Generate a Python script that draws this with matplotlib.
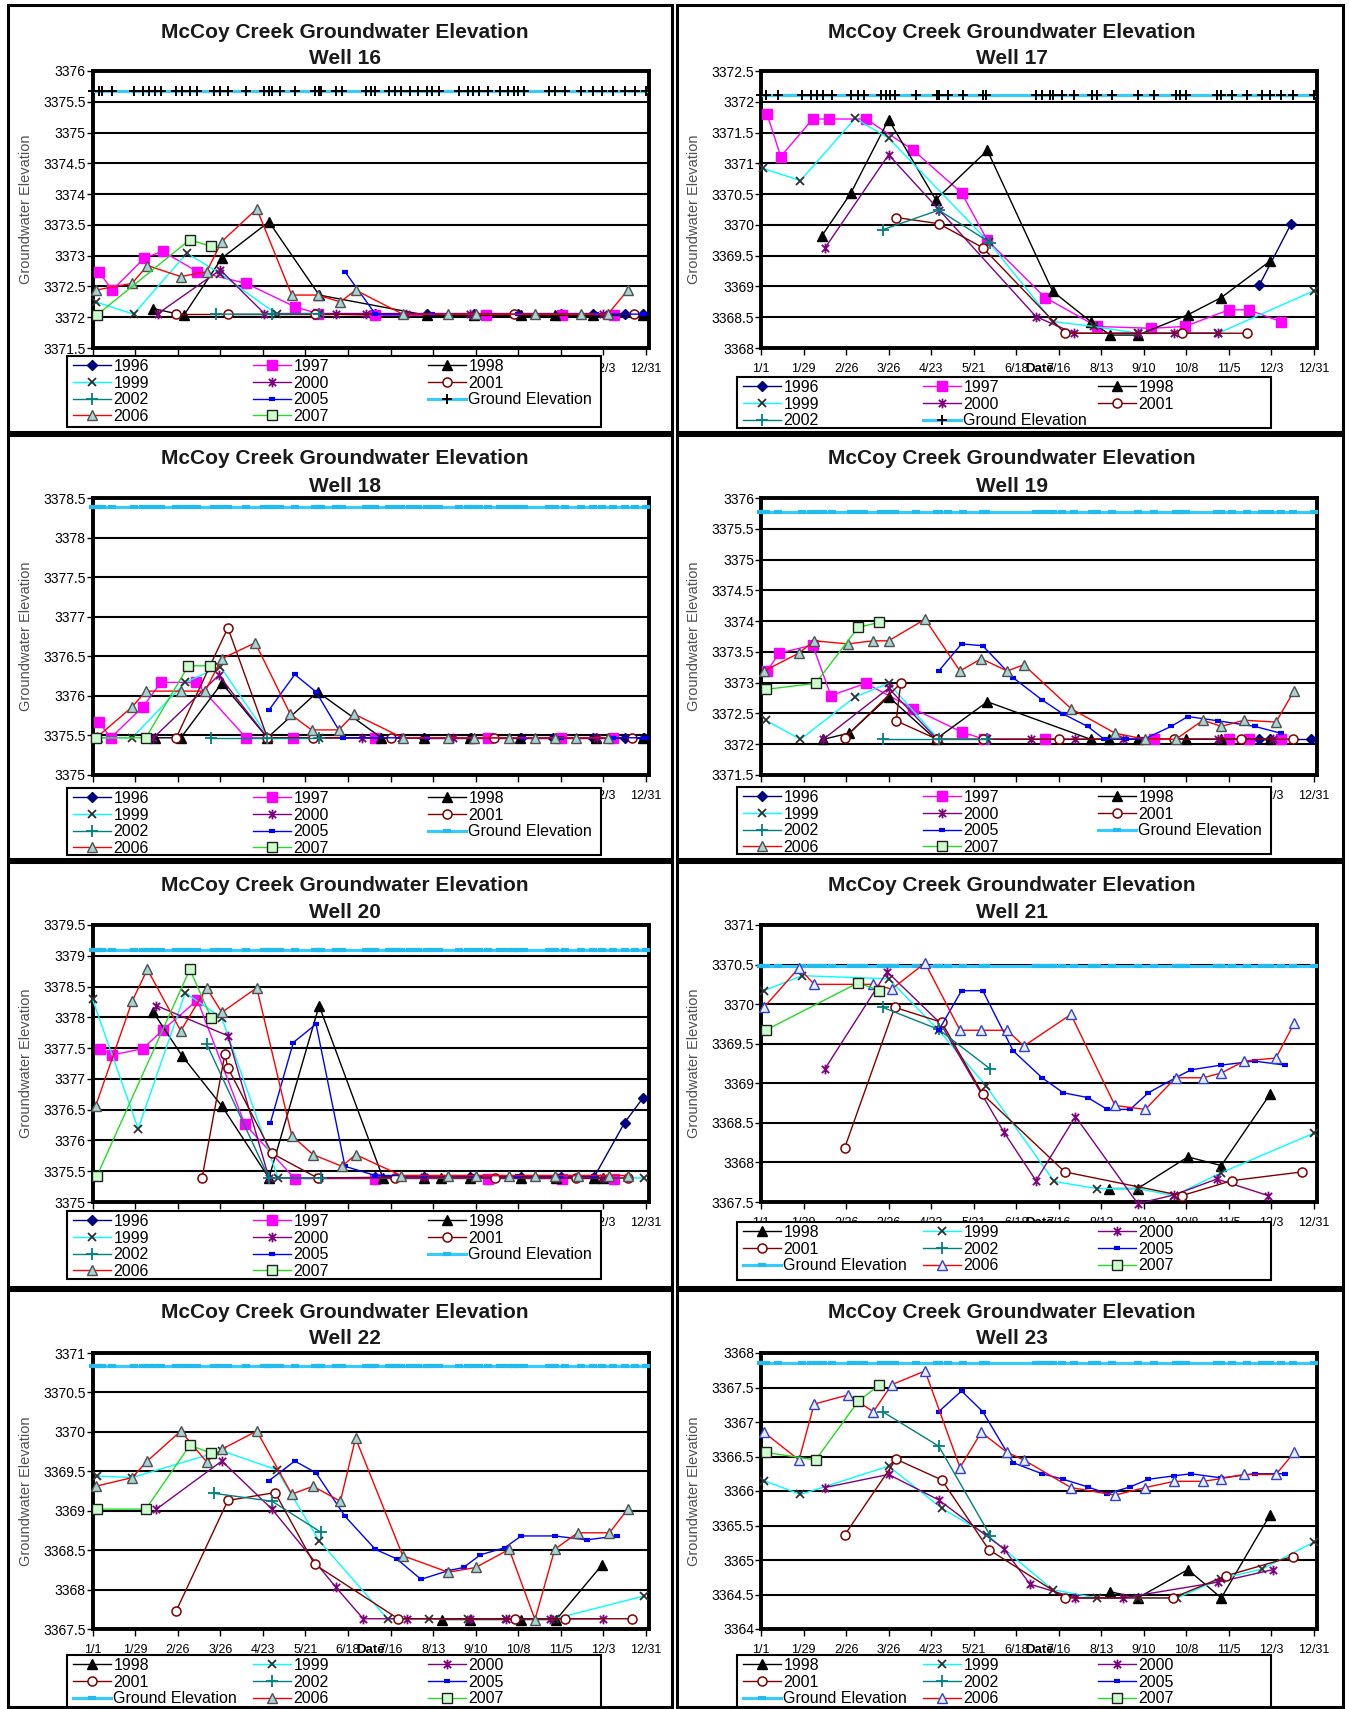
import matplotlib.pyplot as plt
from matplotlib.path import Path
from matplotlib.patches import Rectangle
from matplotlib.legend import Legend
from matplotlib.ticker import MultipleLocator, FuncFormatter

plt.rcParams['font.family'] = ['Liberation Sans', 'DejaVu Sans']

# x axis: day of year, ticks every 28 days
TICK_DAYS = [0, 28, 56, 84, 112, 140, 168, 196, 224, 252, 280, 308, 336, 364]
TICK_LABELS = ['1/1', '1/29', '2/26', '3/26', '4/23', '5/21', '6/18', '7/16',
               '8/13', '9/10', '10/8', '11/5', '12/3', '12/31']

# survey dates used for the ground elevation series
GROUND_DAYS_A = [0, 4, 6, 13, 27, 33, 37, 41, 45, 55, 59, 64, 69, 80, 84, 89, 101, 113,
                 116, 118, 123, 133, 146, 149, 150, 160, 164, 180, 183, 186, 195, 199,
                 203, 209, 214, 220, 223, 228, 241, 247, 250, 254, 260, 268, 273, 277,
                 280, 284, 300, 304, 311, 321, 329, 335, 342, 350, 357, 364]
GROUND_DAYS_B = [0, 3, 11, 27, 33, 37, 41, 47, 59, 64, 68, 79, 82, 85, 88, 102, 116,
                 117, 123, 133, 146, 148, 181, 185, 190, 192, 198, 206, 218, 221, 231,
                 248, 259, 273, 276, 280, 300, 303, 310, 320, 330, 335, 342, 350, 364]

# ground surface elevation at each well
GROUND = {16: 3375.67, 17: 3372.11, 18: 3378.39, 19: 3375.78,
          20: 3379.09, 21: 3370.48, 22: 3370.83, 23: 3367.85}

# measured water levels: (day of year, elevation)
well16 = {
    '1996': [(186, 3372.05), (220, 3372.05), (251, 3372.05), (280, 3372.05), (308, 3372.05),
             (329, 3372.05), (350, 3372.05), (362, 3372.05)],
    '1997': [(4, 3372.74), (13, 3372.44), (34, 3372.96), (46, 3373.07), (69, 3372.74),
             (101, 3372.55), (133, 3372.17), (148, 3372.06), (186, 3372.03), (259, 3372.04),
             (309, 3372.04), (343, 3372.04)],
    '1998': [(40, 3372.14), (60, 3372.03), (85, 3372.96), (116, 3373.55), (149, 3372.36),
             (220, 3372.03), (251, 3372.03), (282, 3372.03), (304, 3372.03), (329, 3372.03),
             (362, 3372.03)],
    '1999': [(2, 3372.25), (27, 3372.05), (62, 3373.04), (84, 3372.71), (121, 3372.05),
             (149, 3372.06)],
    '2000': [(43, 3372.06), (84, 3372.77), (113, 3372.06), (160, 3372.06), (180, 3372.06),
             (206, 3372.06), (248, 3372.06), (336, 3372.06)],
    '2001': [(55, 3372.05), (89, 3372.05), (146, 3372.05), (277, 3372.05), (356, 3372.05)],
    '2002': [(81, 3372.05), (118, 3372.05), (149, 3372.06)],
    '2005': [(166, 3372.74), (186, 3372.05), (223, 3372.05), (280, 3372.05), (331, 3372.05),
             (362, 3372.05)],
    '2006': [(2, 3372.44), (26, 3372.55), (36, 3372.84), (58, 3372.66), (75, 3372.74),
             (85, 3373.23), (108, 3373.76), (131, 3372.36), (148, 3372.36), (163, 3372.25),
             (173, 3372.44), (204, 3372.05), (234, 3372.05), (252, 3372.05), (291, 3372.05),
             (321, 3372.05), (339, 3372.05), (352, 3372.44)],
    '2007': [(3, 3372.04), (64, 3373.26), (78, 3373.15)],
}

well17 = {
    '1996': [(328, 3369.02), (349, 3370.02)],
    '1997': [(4, 3371.80), (13, 3371.11), (34, 3371.72), (45, 3371.72), (69, 3371.72),
             (100, 3371.22), (132, 3370.52), (149, 3369.75), (187, 3368.82), (221, 3368.35),
             (257, 3368.32), (279, 3368.35), (308, 3368.62), (321, 3368.62), (342, 3368.43)],
    '1998': [(40, 3369.82), (59, 3370.51), (84, 3371.71), (115, 3370.41), (149, 3371.21),
             (192, 3368.92), (217, 3368.43), (230, 3368.21), (248, 3368.21), (281, 3368.54),
             (303, 3368.82), (335, 3369.41)],
    '1999': [(1, 3370.92), (26, 3370.72), (62, 3371.73), (84, 3371.41), (150, 3369.72),
             (192, 3368.43), (219, 3368.35), (248, 3368.24), (301, 3368.24), (364, 3368.93)],
    '2000': [(42, 3369.62), (84, 3371.14), (117, 3370.25), (181, 3368.51), (206, 3368.24),
             (248, 3368.24), (272, 3368.24), (301, 3368.24)],
    '2001': [(89, 3370.12), (117, 3370.02), (146, 3369.63), (200, 3368.24), (277, 3368.24),
             (320, 3368.24)],
    '2002': [(80, 3369.92), (117, 3370.24), (151, 3369.71)],
}

well18 = {
    '1996': [(218, 3375.47), (249, 3375.47), (282, 3375.47), (303, 3375.47), (329, 3375.47),
             (350, 3375.47), (363, 3375.47)],
    '1997': [(4, 3375.67), (12, 3375.47), (33, 3375.86), (45, 3376.17), (68, 3376.17),
             (101, 3375.47), (132, 3375.47), (186, 3375.47), (260, 3375.47), (308, 3375.47),
             (342, 3375.47)],
    '1998': [(41, 3375.47), (58, 3375.47), (85, 3376.16), (115, 3375.47), (148, 3376.05),
             (190, 3375.47), (218, 3375.47), (248, 3375.47), (281, 3375.47), (331, 3375.47),
             (362, 3375.47)],
    '1999': [(3, 3375.47), (26, 3375.47), (61, 3376.17), (84, 3376.37), (116, 3375.47),
             (149, 3375.47)],
    '2000': [(40, 3375.47), (83, 3376.26), (115, 3375.47), (177, 3375.47), (203, 3375.47),
             (237, 3375.47), (332, 3375.47)],
    '2001': [(55, 3375.47), (89, 3376.86), (115, 3375.47), (145, 3375.47), (196, 3375.47),
             (264, 3375.47), (355, 3375.47)],
    '2002': [(78, 3375.47), (115, 3375.47), (149, 3375.47)],
    '2005': [(116, 3375.82), (133, 3376.27), (147, 3376.05), (165, 3375.47), (220, 3375.47),
             (251, 3375.47), (283, 3375.47), (308, 3375.47), (342, 3375.47), (363, 3375.47)],
    '2006': [(3, 3375.48), (26, 3375.86), (35, 3376.06), (58, 3376.06), (74, 3376.06),
             (85, 3376.47), (107, 3376.67), (130, 3375.77), (144, 3375.57), (162, 3375.57),
             (172, 3375.77), (204, 3375.47), (234, 3375.47), (251, 3375.47), (274, 3375.47),
             (291, 3375.47), (304, 3375.47), (318, 3375.47), (339, 3375.47)],
    '2007': [(2, 3375.47), (35, 3375.47), (63, 3376.38), (77, 3376.38)],
}

well19 = {
    '1996': [(328, 3372.08), (335, 3372.08), (362, 3372.08)],
    '1997': [(4, 3373.19), (12, 3373.48), (34, 3373.61), (46, 3372.79), (69, 3372.99),
             (100, 3372.58), (132, 3372.20), (147, 3372.08), (187, 3372.08), (259, 3372.08),
             (308, 3372.08), (321, 3372.08), (342, 3372.08)],
    '1998': [(41, 3372.08), (58, 3372.18), (84, 3372.77), (115, 3372.08), (149, 3372.69),
             (217, 3372.08), (229, 3372.08), (248, 3372.08), (280, 3372.08), (303, 3372.08),
             (335, 3372.08)],
    '1999': [(3, 3372.39), (26, 3372.08), (62, 3372.77), (84, 3372.99), (117, 3372.08),
             (149, 3372.08)],
    '2000': [(41, 3372.08), (84, 3372.91), (116, 3372.08), (178, 3372.08), (207, 3372.08),
             (238, 3372.08), (301, 3372.08), (337, 3372.08)],
    '2001': [(55, 3372.10), (92, 3372.99), (89, 3372.38), (116, 3372.08), (146, 3372.08),
             (196, 3372.08), (272, 3372.08), (316, 3372.08), (350, 3372.08)],
    '2002': [(80, 3372.08), (117, 3372.08), (149, 3372.08)],
    '2005': [(117, 3373.19), (132, 3373.63), (146, 3373.60), (166, 3373.08), (185, 3372.72),
             (199, 3372.49), (215, 3372.29), (226, 3372.08), (240, 3372.08), (252, 3372.08),
             (270, 3372.29), (281, 3372.45), (301, 3372.38), (325, 3372.29), (342, 3372.18)],
    '2006': [(2, 3373.19), (25, 3373.48), (35, 3373.68), (57, 3373.63), (74, 3373.68),
             (84, 3373.68), (108, 3374.03), (131, 3373.19), (145, 3373.39), (162, 3373.19),
             (173, 3373.29), (204, 3372.58), (233, 3372.18), (253, 3372.08), (273, 3372.08),
             (291, 3372.39), (303, 3372.29), (318, 3372.39), (339, 3372.36), (351, 3372.87)],
    '2007': [(3, 3372.89), (36, 3372.99), (64, 3373.90), (78, 3373.98)],
}

well20 = {
    '1996': [(186, 3375.41), (218, 3375.41), (248, 3375.41), (282, 3375.41), (308, 3375.41),
             (330, 3375.41), (350, 3376.29), (362, 3376.69)],
    '1997': [(5, 3377.49), (13, 3377.39), (33, 3377.49), (46, 3377.79), (69, 3378.28),
             (100, 3376.27), (133, 3375.38), (186, 3375.38), (260, 3375.38), (309, 3375.38),
             (343, 3375.38)],
    '1998': [(40, 3378.08), (59, 3377.37), (85, 3376.56), (116, 3375.39), (149, 3378.19),
             (191, 3375.39), (218, 3375.39), (229, 3375.39), (248, 3375.39), (282, 3375.39),
             (305, 3375.39), (330, 3375.39), (336, 3375.39)],
    '1999': [(0, 3378.29), (30, 3376.19), (61, 3378.40), (85, 3377.99), (122, 3375.39),
             (149, 3375.39), (363, 3375.39)],
    '2000': [(42, 3378.19), (89, 3377.70), (116, 3375.39), (148, 3375.39), (218, 3375.41),
             (305, 3375.39), (336, 3375.39)],
    '2001': [(72, 3375.39), (87, 3377.40), (89, 3377.18), (118, 3375.79), (148, 3375.39),
             (199, 3375.39), (265, 3375.39), (318, 3375.39), (352, 3375.39)],
    '2002': [(75, 3377.57), (116, 3375.39), (150, 3375.39)],
    '2005': [(117, 3376.29), (132, 3377.59), (147, 3377.89), (166, 3375.58), (186, 3375.43),
             (218, 3375.43), (251, 3375.43), (280, 3375.43), (308, 3375.43), (330, 3375.43)],
    '2006': [(2, 3376.56), (26, 3378.26), (36, 3378.78), (58, 3377.78), (75, 3378.48),
             (85, 3378.08), (108, 3378.48), (131, 3376.08), (145, 3375.77), (164, 3375.58),
             (173, 3375.77), (203, 3375.43), (234, 3375.43), (252, 3375.43), (274, 3375.43),
             (291, 3375.43), (304, 3375.43), (319, 3375.43), (340, 3375.43), (352, 3375.43)],
    '2007': [(3, 3375.43), (64, 3378.78), (78, 3377.99)],
}

well21 = {
    '1998': [(229, 3367.67), (248, 3367.67), (281, 3368.07), (303, 3367.96), (335, 3368.86)],
    '1999': [(2, 3370.17), (27, 3370.36), (84, 3370.32), (117, 3369.67), (148, 3368.97),
             (193, 3367.76), (221, 3367.67), (248, 3367.67), (272, 3367.58), (303, 3367.87),
             (364, 3368.37)],
    '2000': [(42, 3369.18), (83, 3370.41), (118, 3369.76), (160, 3368.38), (181, 3367.77),
             (207, 3368.58), (248, 3367.48), (272, 3367.59), (300, 3367.79), (334, 3367.58)],
    '2001': [(55, 3368.18), (88, 3369.96), (119, 3369.77), (146, 3368.86), (200, 3367.88),
             (277, 3367.58), (310, 3367.77), (356, 3367.88)],
    '2002': [(80, 3369.96), (117, 3369.68), (151, 3369.18)],
    '2005': [(117, 3369.67), (132, 3370.17), (146, 3370.17), (166, 3369.41), (185, 3369.07),
             (199, 3368.88), (215, 3368.82), (228, 3368.67), (243, 3368.67), (255, 3368.88),
             (273, 3369.07), (283, 3369.17), (303, 3369.23), (325, 3369.28), (345, 3369.23)],
    '2006': [(2, 3369.96), (25, 3370.46), (35, 3370.25), (74, 3370.25), (86, 3370.19),
             (108, 3370.52), (131, 3369.67), (145, 3369.67), (162, 3369.67), (173, 3369.47),
             (204, 3369.87), (233, 3368.72), (253, 3368.67), (273, 3369.07), (291, 3369.07),
             (303, 3369.13), (318, 3369.28), (339, 3369.32), (351, 3369.76)],
    '2007': [(3, 3369.67), (64, 3370.27), (78, 3370.17)],
}

well22 = {
    '1998': [(230, 3367.62), (248, 3367.62), (282, 3367.62), (305, 3367.62), (335, 3368.31)],
    '1999': [(3, 3369.44), (26, 3369.42), (85, 3369.76), (121, 3369.52), (149, 3368.62),
             (194, 3367.63), (221, 3367.63), (247, 3367.63), (272, 3367.63), (304, 3367.63),
             (363, 3367.92)],
    '2000': [(42, 3369.02), (85, 3369.63), (118, 3369.02), (160, 3368.03), (178, 3367.63),
             (207, 3367.63), (248, 3367.63), (272, 3367.63), (301, 3367.63), (336, 3367.63)],
    '2001': [(55, 3367.73), (89, 3369.13), (120, 3369.23), (146, 3368.32), (201, 3367.63),
             (278, 3367.63), (311, 3367.63), (355, 3367.63)],
    '2002': [(80, 3369.22), (118, 3369.12), (150, 3368.73)],
    '2005': [(116, 3369.38), (133, 3369.63), (147, 3369.48), (166, 3368.93), (186, 3368.51),
             (200, 3368.39), (216, 3368.13), (234, 3368.24), (244, 3368.28), (255, 3368.44),
             (271, 3368.53), (282, 3368.68), (304, 3368.68), (325, 3368.63), (345, 3368.68)],
    '2006': [(2, 3369.31), (26, 3369.42), (36, 3369.63), (58, 3370.01), (75, 3369.62),
             (85, 3369.78), (108, 3370.01), (131, 3369.21), (145, 3369.31), (163, 3369.12),
             (173, 3369.92), (204, 3368.43), (234, 3368.22), (252, 3368.28), (274, 3368.51),
             (291, 3367.62), (304, 3368.51), (319, 3368.72), (340, 3368.72), (352, 3369.02)],
    '2007': [(3, 3369.02), (35, 3369.02), (64, 3369.83), (78, 3369.73)],
}

well23 = {
    '1998': [(230, 3364.54), (248, 3364.45), (281, 3364.86), (303, 3364.45), (335, 3365.65)],
    '1999': [(2, 3366.15), (26, 3365.95), (84, 3366.36), (119, 3365.75), (149, 3365.36),
             (192, 3364.57), (221, 3364.45), (248, 3364.45), (274, 3364.45), (303, 3364.73),
             (330, 3364.87), (364, 3365.26)],
    '2000': [(42, 3366.05), (84, 3366.24), (117, 3365.87), (160, 3365.16), (177, 3364.65),
             (207, 3364.45), (238, 3364.45), (301, 3364.68), (337, 3364.86)],
    '2001': [(55, 3365.36), (89, 3366.46), (119, 3366.16), (150, 3365.15), (200, 3364.45),
             (271, 3364.45), (306, 3364.77), (350, 3365.05)],
    '2002': [(80, 3367.15), (117, 3366.65), (151, 3365.35)],
    '2005': [(117, 3367.15), (132, 3367.45), (146, 3367.15), (166, 3366.41), (185, 3366.25),
             (199, 3366.17), (215, 3366.06), (228, 3365.96), (243, 3366.06), (255, 3366.17),
             (272, 3366.22), (283, 3366.25), (303, 3366.19), (325, 3366.25), (345, 3366.25)],
    '2006': [(2, 3366.85), (25, 3366.45), (35, 3367.26), (57, 3367.39), (74, 3367.15),
             (86, 3367.54), (108, 3367.74), (131, 3366.34), (145, 3366.85), (162, 3366.56),
             (173, 3366.45), (204, 3366.05), (233, 3365.94), (253, 3366.05), (272, 3366.14),
             (291, 3366.14), (303, 3366.18), (318, 3366.24), (339, 3366.24), (351, 3366.56)],
    '2007': [(3, 3366.56), (36, 3366.45), (64, 3367.30), (78, 3367.54)],
}

# Excel-like "star" marker: an X with a vertical bar
STAR = Path([(0, -1), (0, 1), (-0.75, -0.75), (0.75, 0.75), (-0.75, 0.75), (0.75, -0.75)],
            [Path.MOVETO, Path.LINETO, Path.MOVETO, Path.LINETO, Path.MOVETO, Path.LINETO])

STYLES = {
    '1996': dict(color='#000080', marker='D', ms=5.5, mfc='#000080', mec='#000080'),
    '1997': dict(color='#FF00FF', marker='s', ms=7.5, mfc='#FF00FF', mec='#FF00FF'),
    '1998': dict(color='black', marker='^', ms=6.5, mfc='black', mec='black'),
    '1999': dict(color='#00FFFF', marker='x', ms=6, mec='#303030', mew=1.3),
    '2000': dict(color='#800080', marker=STAR, ms=7, mec='#800080', mew=1.3),
    '2001': dict(color='#800000', marker='o', ms=6.5, mfc='white', mec='#800000', mew=1.1),
    '2002': dict(color='#008080', marker='+', ms=8, mec='#008080', mew=1.3),
    '2005': dict(color='#0000FF', marker='_', ms=5, mec='#0000FF', mew=3),
    '2006': dict(color='#FF0000', marker='^', ms=6.5, mfc='#A8D4D4', mec='#505050', mew=1),
    '2007': dict(color='#22DD22', marker='s', ms=7, mfc='#CCFFCC', mec='#202020', mew=1),
}
TRI_BLUE = dict(mfc='#E8F0FF', mec='#3040D0')
GROUND_PLUS = dict(color='#33CCFF', lw=2.2, marker='+', ms=7, mec='black', mew=1.4)
GROUND_DASH = dict(color='#33CCFF', lw=2.2, marker='_', ms=6, mec='#22BBEE', mew=3)

# legend entries, read left to right, row by row
ORDER_FULL = ['1996', '1997', '1998', '1999', '2000', '2001', '2002', '2005',
              'Ground Elevation', '2006', '2007']
ORDER_17 = ['1996', '1997', '1998', '1999', '2000', '2001', '2002', 'Ground Elevation']
ORDER_LATE = ['1998', '1999', '2000', '2001', '2002', '2005', 'Ground Elevation',
              '2006', '2007']

W, H = 1349, 1709
fig = plt.figure(figsize=(W / 100, H / 100), dpi=100)

# layout in pixels
COLS = [(92.6, 649), (761, 1317)]
ROWS = [(71, 348), (498, 775), (925, 1202), (1353, 1629)]
FRAME_X = [(8, 671.5), (677, 1343)]
FRAME_Y = [(5, 432), (435, 859), (862, 1287), (1290, 1707)]
TITLE_Y = [(32, 58), (459, 486), (886, 912), (1313, 1339)]
TITLE_X = [345, 1012]
LEG_X = [(66.7, 601.4), (736.6, 1270.5)]
LEG_TOP = [(356, 377), (788, 787), (1211, 1222), (1655, 1655)]
LEG_H = [(71, 51), (67, 67), (68, 58), (54, 54)]
LEG_COL_OFF = [6, 186, 361]

panels = [
    (16, well16, (3371.5, 3376), ORDER_FULL, GROUND_DAYS_A, GROUND_PLUS, False),
    (17, well17, (3368, 3372.5), ORDER_17, GROUND_DAYS_B, GROUND_PLUS, False),
    (18, well18, (3375, 3378.5), ORDER_FULL, GROUND_DAYS_A, GROUND_DASH, False),
    (19, well19, (3371.5, 3376), ORDER_FULL, GROUND_DAYS_B, GROUND_DASH, False),
    (20, well20, (3375, 3379.5), ORDER_FULL, GROUND_DAYS_A, GROUND_DASH, False),
    (21, well21, (3367.5, 3371), ORDER_LATE, GROUND_DAYS_B, GROUND_DASH, True),
    (22, well22, (3367.5, 3371), ORDER_LATE, GROUND_DAYS_A, GROUND_DASH, False),
    (23, well23, (3364, 3368), ORDER_LATE, GROUND_DAYS_B, GROUND_DASH, True),
]

for i, (num, data, ylim, order, gdays, gstyle, blue_tri) in enumerate(panels):
    r, c = divmod(i, 2)
    l, rgt = COLS[c]
    t, b = ROWS[r]
    ax = fig.add_axes([l / W, 1 - b / H, (rgt - l) / W, (b - t) / H])

    # panel frame
    fx0, fx1 = FRAME_X[c]
    fy0, fy1 = FRAME_Y[r]
    fig.add_artist(Rectangle((fx0 / W, 1 - fy1 / H), (fx1 - fx0) / W, (fy1 - fy0) / H,
                             transform=fig.transFigure, fill=False, ec='black', lw=2.2))

    handles = {}
    g, = ax.plot(gdays, [GROUND[num]] * len(gdays), label='Ground Elevation',
                 clip_on=False, zorder=3, **gstyle)
    handles['Ground Elevation'] = g
    for year, pts in data.items():
        st = dict(STYLES[year])
        if year == '2006' and blue_tri:
            st.update(TRI_BLUE)
        days = [p[0] for p in pts]
        vals = [p[1] for p in pts]
        h, = ax.plot(days, vals, lw=1.0, label=year, clip_on=False, zorder=4, **st)
        handles[year] = h

    ax.set_xlim(0, 366)
    ax.set_ylim(*ylim)
    ax.set_xticks(TICK_DAYS)
    ax.set_xticklabels(TICK_LABELS, fontsize=9)
    ax.yaxis.set_major_locator(MultipleLocator(0.5))
    ax.yaxis.set_major_formatter(FuncFormatter(lambda v, p: '{:g}'.format(round(v, 1))))
    ax.tick_params(axis='y', labelsize=10, length=4, width=1, pad=1)
    ax.tick_params(axis='x', length=5, width=1, pad=6)
    ax.yaxis.grid(True, color='black', lw=1.5)
    ax.set_axisbelow(True)
    for sp in ax.spines.values():
        sp.set_linewidth(2.8)

    ax.set_ylabel('Groundwater Elevation', fontsize=10.5, color='#505050')
    ax.yaxis.set_label_coords(-0.108, 0.5)
    ax.set_xlabel('Date', fontsize=9.5, fontweight='bold')
    ax.xaxis.set_label_coords(0.5, -0.055)

    tx = TITLE_X[c]
    ty1, ty2 = TITLE_Y[r]
    fig.text(tx / W, 1 - ty1 / H, 'McCoy Creek Groundwater Elevation', ha='center',
             va='center', fontsize=15, fontweight='bold', color='#1a1a1a')
    fig.text(tx / W, 1 - ty2 / H, 'Well %d' % num, ha='center', va='center',
             fontsize=15, fontweight='bold', color='#1a1a1a')

    # legend: white box over the date labels, three equally spaced columns
    lx0, lx1 = LEG_X[c]
    ltop = LEG_TOP[r][c]
    box_h = LEG_H[r][c]
    box = Rectangle((lx0 / W, 1 - (ltop + box_h) / H), (lx1 - lx0) / W, box_h / H,
                    transform=fig.transFigure, fc='white', ec='black', lw=1.5,
                    zorder=9, clip_on=False)
    ax.add_artist(box)
    for ci in range(3):
        items = order[ci::3]
        leg = Legend(ax, [handles[k] for k in items], items, loc='upper left',
                     bbox_to_anchor=((lx0 + LEG_COL_OFF[ci]) / W, 1 - (ltop + 3) / H),
                     bbox_transform=fig.transFigure, frameon=False, fontsize=11.5,
                     borderpad=0, borderaxespad=0, labelspacing=0.1,
                     handlelength=2.4, handletextpad=0.15, numpoints=1)
        leg.set_zorder(10)
        ax.add_artist(leg)

fig.savefig('out.png', dpi=100)
